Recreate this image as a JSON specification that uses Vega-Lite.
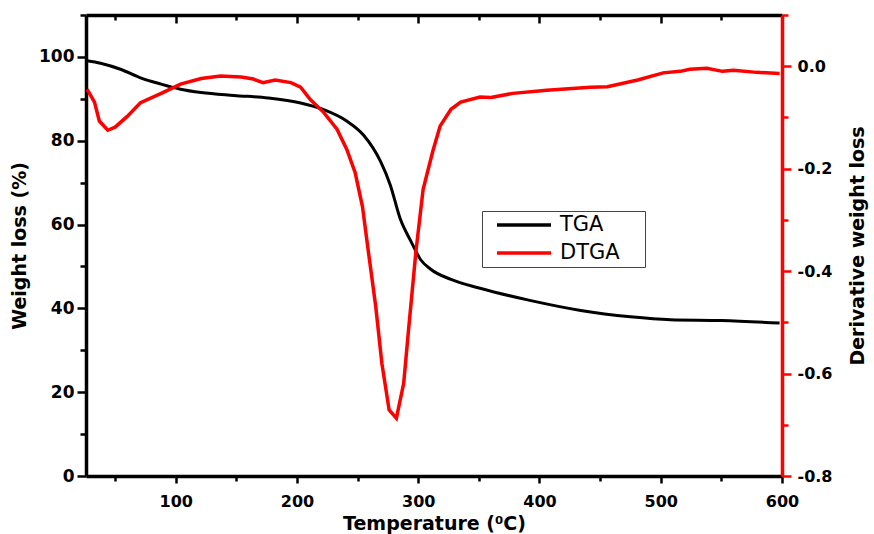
{
  "$schema": "https://vega.github.io/schema/vega-lite/v6.json",
  "width": 696,
  "height": 461,
  "autosize": {"type": "none"},
  "padding": {"left": 86, "top": 15, "right": 92, "bottom": 58},
  "background": "white",
  "config": {
    "view": {"stroke": null},
    "axis": {
      "grid": false,
      "labelFont": "DejaVu Sans",
      "labelFontWeight": "bold",
      "labelFontSize": 16,
      "labelColor": "black",
      "titleFont": "DejaVu Sans",
      "titleFontWeight": "bold",
      "titleFontSize": 19,
      "titleColor": "black",
      "domainColor": "black",
      "domainWidth": 3.5,
      "tickColor": "black",
      "tickWidth": 2.5
    },
    "legend": {
      "labelFont": "DejaVu Sans",
      "labelFontSize": 21,
      "labelColor": "black"
    }
  },
  "data": {
    "values": [
      {"series": "TGA", "T": 27, "value": 99.1},
      {"series": "TGA", "T": 38, "value": 98.5},
      {"series": "TGA", "T": 55, "value": 97.0},
      {"series": "TGA", "T": 71, "value": 95.0},
      {"series": "TGA", "T": 88, "value": 93.5},
      {"series": "TGA", "T": 104, "value": 92.3},
      {"series": "TGA", "T": 121, "value": 91.5},
      {"series": "TGA", "T": 148, "value": 90.8},
      {"series": "TGA", "T": 176, "value": 90.2},
      {"series": "TGA", "T": 203, "value": 89.0},
      {"series": "TGA", "T": 222, "value": 87.4},
      {"series": "TGA", "T": 241, "value": 84.7},
      {"series": "TGA", "T": 255, "value": 81.3},
      {"series": "TGA", "T": 269, "value": 75.0},
      {"series": "TGA", "T": 277, "value": 69.4},
      {"series": "TGA", "T": 285, "value": 61.5},
      {"series": "TGA", "T": 294, "value": 56.0},
      {"series": "TGA", "T": 302, "value": 51.6},
      {"series": "TGA", "T": 310, "value": 49.4},
      {"series": "TGA", "T": 327, "value": 46.9},
      {"series": "TGA", "T": 351, "value": 44.8},
      {"series": "TGA", "T": 392, "value": 41.9},
      {"series": "TGA", "T": 434, "value": 39.5},
      {"series": "TGA", "T": 475, "value": 38.0},
      {"series": "TGA", "T": 508, "value": 37.3},
      {"series": "TGA", "T": 550, "value": 37.1},
      {"series": "TGA", "T": 598, "value": 36.5},
      {"series": "DTGA", "T": 27, "value": -0.045},
      {"series": "DTGA", "T": 33, "value": -0.07},
      {"series": "DTGA", "T": 37, "value": -0.107},
      {"series": "DTGA", "T": 44, "value": -0.125},
      {"series": "DTGA", "T": 50, "value": -0.119},
      {"series": "DTGA", "T": 60, "value": -0.098},
      {"series": "DTGA", "T": 71, "value": -0.071},
      {"series": "DTGA", "T": 88, "value": -0.053},
      {"series": "DTGA", "T": 104, "value": -0.035},
      {"series": "DTGA", "T": 121, "value": -0.024},
      {"series": "DTGA", "T": 137, "value": -0.019},
      {"series": "DTGA", "T": 154, "value": -0.021},
      {"series": "DTGA", "T": 164, "value": -0.025},
      {"series": "DTGA", "T": 172, "value": -0.032},
      {"series": "DTGA", "T": 182, "value": -0.027},
      {"series": "DTGA", "T": 195, "value": -0.032},
      {"series": "DTGA", "T": 203, "value": -0.041},
      {"series": "DTGA", "T": 211, "value": -0.065},
      {"series": "DTGA", "T": 222, "value": -0.09},
      {"series": "DTGA", "T": 233, "value": -0.123},
      {"series": "DTGA", "T": 241, "value": -0.162},
      {"series": "DTGA", "T": 248, "value": -0.208},
      {"series": "DTGA", "T": 254, "value": -0.274},
      {"series": "DTGA", "T": 259, "value": -0.364},
      {"series": "DTGA", "T": 265, "value": -0.47},
      {"series": "DTGA", "T": 270, "value": -0.58},
      {"series": "DTGA", "T": 276, "value": -0.671},
      {"series": "DTGA", "T": 282, "value": -0.687},
      {"series": "DTGA", "T": 288, "value": -0.619},
      {"series": "DTGA", "T": 292, "value": -0.515},
      {"series": "DTGA", "T": 298, "value": -0.364},
      {"series": "DTGA", "T": 304, "value": -0.241},
      {"series": "DTGA", "T": 312, "value": -0.166},
      {"series": "DTGA", "T": 318, "value": -0.117},
      {"series": "DTGA", "T": 327, "value": -0.084},
      {"series": "DTGA", "T": 335, "value": -0.07},
      {"series": "DTGA", "T": 351, "value": -0.06},
      {"series": "DTGA", "T": 360, "value": -0.061},
      {"series": "DTGA", "T": 378, "value": -0.053},
      {"series": "DTGA", "T": 406, "value": -0.047},
      {"series": "DTGA", "T": 442, "value": -0.041},
      {"series": "DTGA", "T": 456, "value": -0.04},
      {"series": "DTGA", "T": 481, "value": -0.027},
      {"series": "DTGA", "T": 502, "value": -0.013},
      {"series": "DTGA", "T": 516, "value": -0.01},
      {"series": "DTGA", "T": 524, "value": -0.006},
      {"series": "DTGA", "T": 538, "value": -0.004},
      {"series": "DTGA", "T": 551, "value": -0.01},
      {"series": "DTGA", "T": 560, "value": -0.008},
      {"series": "DTGA", "T": 579, "value": -0.012},
      {"series": "DTGA", "T": 598, "value": -0.014}
    ]
  },
  "layer": [
    {
      "transform": [{"filter": "datum.series === 'TGA'"}],
      "mark": {"type": "line", "strokeWidth": 3, "interpolate": "monotone"},
      "encoding": {
        "x": {
          "field": "T", "type": "quantitative",
          "scale": {"domain": [26, 600], "nice": false, "zero": false},
          "axis": {
            "orient": "bottom",
            "title": "Temperature (⁰C)",
            "values": [50, 100, 150, 200, 250, 300, 350, 400, 450, 500, 550, 600],
            "labelExpr": "datum.value % 100 === 0 ? format(datum.value, 'd') : ''",
            "tickSize": {"condition": {"test": "datum.value % 100 === 0", "value": 7}, "value": 5},
            "labelPadding": 10,
            "titlePadding": 5,
            "labelFlush": false,
            "labelOverlap": false
          }
        },
        "y": {
          "field": "value", "type": "quantitative",
          "scale": {"domain": [0, 110], "nice": false, "zero": false},
          "axis": {
            "orient": "left",
            "title": "Weight loss (%)",
            "values": [0, 10, 20, 30, 40, 50, 60, 70, 80, 90, 100, 110],
            "labelExpr": "datum.value % 20 === 0 && datum.value <= 100 ? format(datum.value, 'd') : ''",
            "labelFontSize": 17,
            "tickSize": {"condition": {"test": "datum.value % 20 === 0", "value": 9}, "value": 6},
            "labelPadding": 3,
            "titlePadding": 9,
            "labelFlush": false,
            "labelOverlap": false
          }
        },
        "color": {
          "field": "series", "type": "nominal",
          "scale": {"domain": ["TGA", "DTGA"], "range": ["#000000", "#ff0000"]},
          "legend": {
            "title": null,
            "orient": "none",
            "legendX": 396,
            "legendY": 196,
            "symbolType": "stroke",
            "symbolSize": 2916,
            "symbolStrokeWidth": 3.5,
            "symbolOffset": 9,
            "labelOffset": 7,
            "clipHeight": 20,
            "rowPadding": 7,
            "padding": 4,
            "strokeColor": "#444444",
            "labelExpr": "datum.label + '\u2003\u200b'"
          }
        }
      }
    },
    {
      "transform": [{"filter": "datum.series === 'DTGA'"}],
      "mark": {"type": "line", "strokeWidth": 3.5},
      "encoding": {
        "x": {
          "field": "T", "type": "quantitative",
          "scale": {"domain": [26, 600], "nice": false, "zero": false},
          "axis": {
            "orient": "top",
            "title": null,
            "labels": false,
            "values": [50, 100, 150, 200, 250, 300, 350, 400, 450, 500, 550, 600],
            "tickSize": {"condition": {"test": "datum.value % 100 === 0", "value": -8}, "value": -5}
          }
        },
        "y": {
          "field": "value", "type": "quantitative",
          "scale": {"domain": [-0.8, 0.1], "nice": false, "zero": false},
          "axis": {
            "orient": "right",
            "title": "Derivative weight loss",
            "titleAngle": 270,
            "values": [-0.8, -0.7, -0.6, -0.5, -0.4, -0.3, -0.2, -0.1, 0, 0.1],
            "labelExpr": "abs(round(datum.value * 10)) % 2 === 0 && datum.value < 0.05 ? (datum.value < -0.001 ? '-' : '') + format(abs(datum.value), '.1f') : ''",
            "tickSize": {"condition": {"test": "abs(round(datum.value * 10)) % 2 === 0", "value": 9}, "value": 6},
            "domainColor": "#ff0000",
            "tickColor": "#ff0000",
            "labelPadding": 6,
            "titlePadding": 36,
            "labelFlush": false,
            "labelOverlap": false
          }
        },
        "color": {"field": "series", "type": "nominal"}
      }
    }
  ],
  "resolve": {"scale": {"y": "independent"}, "axis": {"x": "independent"}}
}
